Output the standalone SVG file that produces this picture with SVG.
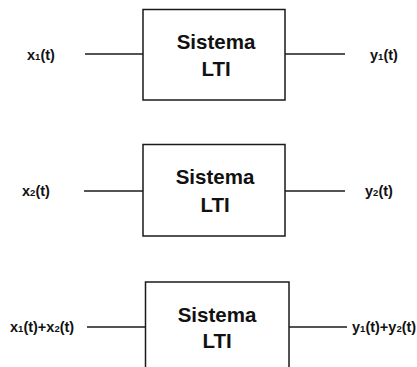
<svg xmlns="http://www.w3.org/2000/svg" width="417" height="367" viewBox="0 0 417 367">
  <style>
    .box { fill: #ffffff; stroke: #1a1a1a; stroke-width: 1.5; }
    .wire { stroke: #1a1a1a; stroke-width: 1.4; fill: none; }
    .title { font-family: "Liberation Sans", Arial, sans-serif; font-weight: bold; font-size: 20.5px; fill: #111; text-anchor: middle; }
    .sig { font-family: "Liberation Sans", Arial, sans-serif; font-weight: bold; font-size: 14.5px; fill: #111; }
    .sub { font-size: 9.5px; }
  </style>
  <rect width="417" height="367" fill="#ffffff"/>

  <g id="connectors">
    <line class="wire" x1="85" y1="54" x2="143" y2="54"/>
    <line class="wire" x1="285" y1="54" x2="345" y2="54"/>
    <line class="wire" x1="84" y1="191" x2="143" y2="191"/>
    <line class="wire" x1="285" y1="191" x2="345" y2="191"/>
    <line class="wire" x1="87" y1="327" x2="145" y2="327"/>
    <line class="wire" x1="289" y1="327" x2="347" y2="327"/>
  </g>

  <g id="system1">
    <rect class="box" x="143" y="9.5" width="142" height="90.5"/>
    <text class="title" x="216" y="49">Sistema</text>
    <text class="title" x="216" y="76">LTI</text>
  </g>
  <g id="system2">
    <rect class="box" x="143" y="144.5" width="142" height="91.5"/>
    <text class="title" x="215" y="184">Sistema</text>
    <text class="title" x="215" y="212">LTI</text>
  </g>
  <g id="system3">
    <rect class="box" x="145.5" y="282" width="143.5" height="100"/>
    <text class="title" x="217" y="322">Sistema</text>
    <text class="title" x="217" y="348">LTI</text>
  </g>

  <g id="input1"><text class="sig" x="27" y="60">x<tspan class="sub">1</tspan>(t)</text></g>
  <g id="output1"><text class="sig" x="370" y="60">y<tspan class="sub">1</tspan>(t)</text></g>
  <g id="input2"><text class="sig" x="22" y="196">x<tspan class="sub">2</tspan>(t)</text></g>
  <g id="output2"><text class="sig" x="365" y="196">y<tspan class="sub">2</tspan>(t)</text></g>
  <g id="input3"><text class="sig" x="10" y="332">x<tspan class="sub">1</tspan>(t)+x<tspan class="sub">2</tspan>(t)</text></g>
  <g id="output3"><text class="sig" x="352" y="332">y<tspan class="sub">1</tspan>(t)+y<tspan class="sub">2</tspan>(t)</text></g>
</svg>
